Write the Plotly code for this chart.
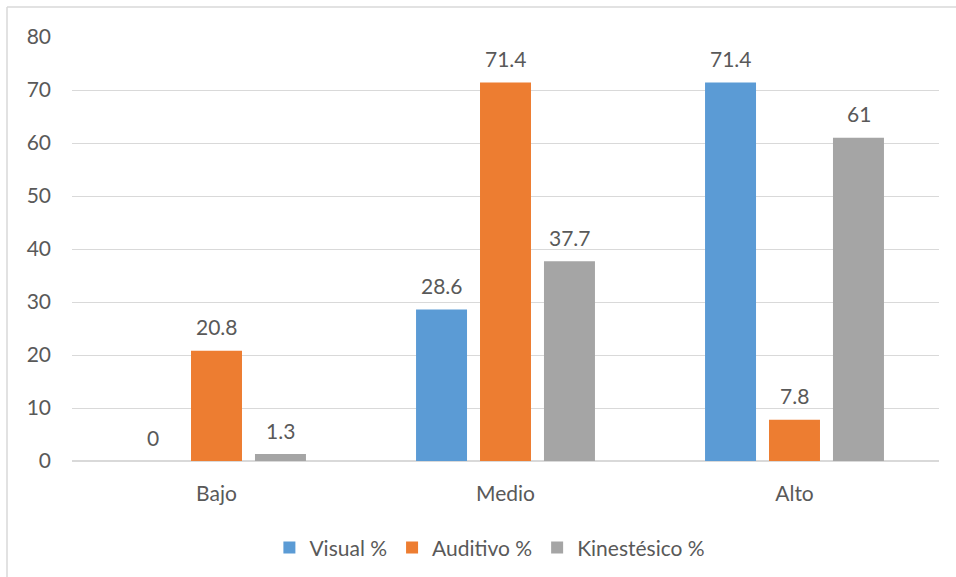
import plotly.graph_objects as go

categories = ["Bajo", "Medio", "Alto"]
visual = [0, 28.6, 71.4]
auditivo = [20.8, 71.4, 7.8]
kinestesico = [1.3, 37.7, 61]
series_names = ["Visual %", "Auditivo %", "Kinestésico %"]
colors = ["#5B9BD5", "#ED7D31", "#A5A5A5"]
y_ticks = [0, 10, 20, 30, 40, 50, 60, 70, 80]

FONT = "Lato"
TXT = "#595959"

fig = go.Figure()
series = [visual, auditivo, kinestesico]
for name, vals, col in zip(series_names, series, colors):
    fig.add_trace(go.Bar(x=categories, y=vals, name=name, marker_color=col,
                         marker_line_width=0))

# data labels
offsets = [-64, 0, 64]
for vals, dx in zip(series, offsets):
    for c, v in zip(categories, vals):
        fig.add_annotation(x=c, y=v, text=f"{v:g}", showarrow=False,
                           xshift=dx, yshift=24, yanchor="middle",
                           font=dict(family=FONT, size=21, color=TXT))

W, H = 956, 577
ml, mr, mt, mb = 72, 17, 37, 116
pw, ph = W - ml - mr, H - mt - mb
# chart border (left and top visible)
x0 = (7 - ml) / pw
y1 = (H - mb - 7) / ph
fig.add_shape(type="line", xref="paper", yref="paper", x0=x0, x1=x0, y0=-0.5, y1=y1,
              line=dict(color="#D9D9D9", width=1.5))
fig.add_shape(type="line", xref="paper", yref="paper", x0=x0, x1=1.2, y0=y1, y1=y1,
              line=dict(color="#D9D9D9", width=1.5))

fig.update_layout(
    width=W, height=H,
    margin=dict(l=ml, r=mr, t=mt, b=mb, autoexpand=False),
    paper_bgcolor="white", plot_bgcolor="white",
    barmode="group", bargap=0.336, bargroupgap=0.203,
    font=dict(family=FONT, size=21, color=TXT),
    showlegend=True,
    legend=dict(orientation="h", x=0.482, xanchor="center", y=-0.205, yanchor="middle",
                font=dict(family=FONT, size=21, color=TXT), traceorder="normal"),
    xaxis=dict(showgrid=False, showline=True, linecolor="#D9D9D9", linewidth=1,
               automargin=False,
               ticks="", ticklabelstandoff=14, tickfont=dict(size=21, color=TXT)),
    yaxis=dict(range=[0, 80], tickvals=y_ticks, showgrid=True, gridcolor="#D9D9D9",
               automargin=False,
               gridwidth=1, zeroline=True, zerolinecolor="#D9D9D9", showline=False,
               ticks="", ticklabelstandoff=20, tickfont=dict(size=21, color=TXT)),
)

fig.write_html("out.html")
